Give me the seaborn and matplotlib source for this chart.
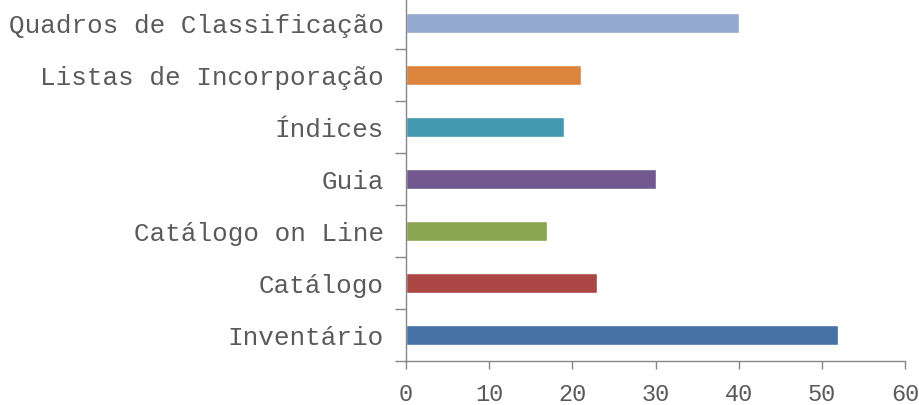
import matplotlib
matplotlib.use("Agg")
import matplotlib.pyplot as plt
import seaborn as sns
import pandas as pd
import numpy as np

categories = ["Quadros de Classificação", "Listas de Incorporação", "Índices", "Guia",
              "Catálogo on Line", "Catálogo", "Inventário"]
values = [40, 21, 19, 30, 17, 23, 52]
colors = ["#93A9CF", "#DB843D", "#4198AF", "#71588F", "#89A54E", "#AA4643", "#4572A7"]
xticks = [0, 10, 20, 30, 40, 50, 60]

sns.set_theme(style="white")
plt.rcParams['font.family'] = ['Liberation Mono', 'DejaVu Sans']

df = pd.DataFrame({"cat": categories, "val": values})
fig = plt.figure(figsize=(9.2, 4.05), dpi=100)
ax = fig.add_axes([0.4413, 0.1086, 0.5424, 0.8988])
sns.barplot(data=df, x="val", y="cat", hue="cat", palette=colors, legend=False,
            orient="h", width=0.37, ax=ax, saturation=1)

ax.set_xlim(0, 60)
ax.set_ylim(len(categories) - 0.5, -0.5)
ax.set_xticks(xticks)
ax.set_xticklabels([str(t) for t in xticks])
ax.set_xlabel("")
ax.set_ylabel("")
for s in ["top", "right"]:
    ax.spines[s].set_visible(False)
for s in ["left", "bottom"]:
    ax.spines[s].set_color("#868686")
    ax.spines[s].set_linewidth(1.0)

ax.set_yticks(np.arange(len(categories)))
ax.set_yticklabels(categories)
ax.set_yticks(np.arange(len(categories) + 1) - 0.5, minor=True)
ax.tick_params(axis="y", which="major", length=0, pad=16, labelsize=18.7, labelcolor="#5a5a5a")
ax.tick_params(axis="y", which="minor", length=8, direction="out", color="#868686", width=1)
ax.tick_params(axis="x", which="major", length=6, direction="out", color="#868686", width=1,
               pad=10, labelsize=17, labelcolor="#5a5a5a")
ax.tick_params(left=True, bottom=True)
ax.yaxis.set_tick_params(which="minor", left=True)

fig.savefig("out.png", dpi=100)
